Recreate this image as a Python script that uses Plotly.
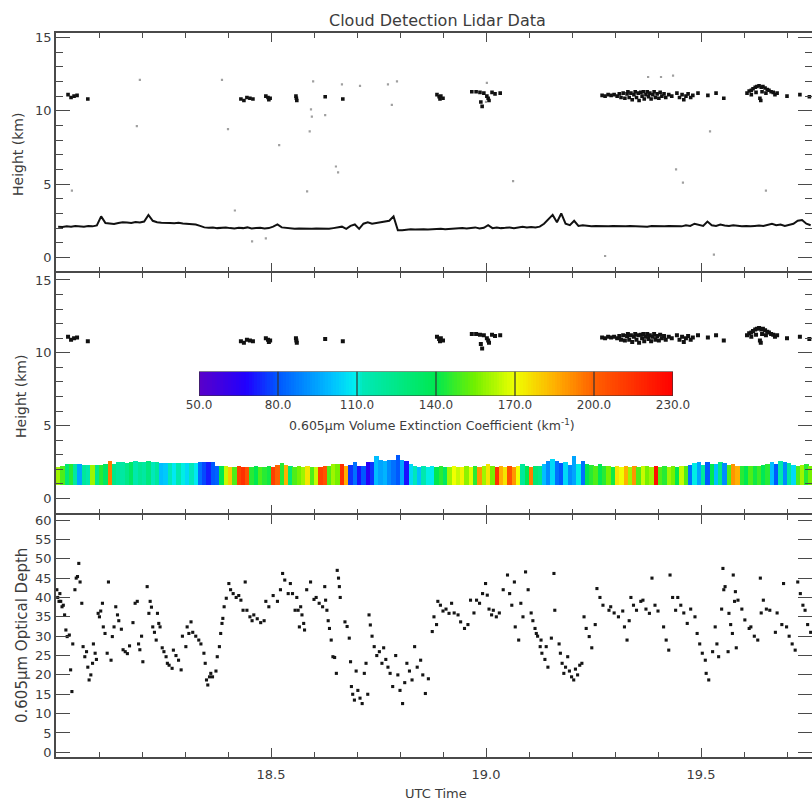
import numpy as np
import plotly.graph_objects as go

FONT = "DejaVu Sans"
INK = "#3c3c3c"
AXC = "#4a4a4a"

# ---------------- optical depth (UTC hour, tau at 0.605 um) ----------------
od_time = [
    18.002, 18.004, 18.007, 18.009, 18.011, 18.014, 18.017, 18.020, 18.023, 18.026,
    18.031, 18.034, 18.037, 18.039, 18.044, 18.047, 18.050, 18.053, 18.056, 18.060,
    18.063, 18.067, 18.071, 18.074, 18.077, 18.081, 18.085, 18.087, 18.091, 18.094,
    18.098, 18.101, 18.104, 18.108, 18.110, 18.114, 18.119, 18.122, 18.128, 18.131,
    18.135, 18.139, 18.143, 18.146, 18.152, 18.156, 18.161, 18.166, 18.171, 18.179,
    18.184, 18.189, 18.192, 18.195, 18.199, 18.202, 18.212, 18.216, 18.219, 18.222,
    18.225, 18.229, 18.233, 18.236, 18.239, 18.242, 18.247, 18.251, 18.256, 18.259,
    18.263, 18.270, 18.273, 18.279, 18.285, 18.291, 18.294, 18.302, 18.305, 18.309,
    18.314, 18.318, 18.325, 18.332, 18.337, 18.344, 18.347, 18.350, 18.353, 18.357,
    18.360, 18.364, 18.372, 18.375, 18.380, 18.383, 18.386, 18.388, 18.391, 18.396,
    18.402, 18.406, 18.412, 18.419, 18.425, 18.430, 18.435, 18.440, 18.444, 18.451,
    18.456, 18.460, 18.468, 18.476, 18.484, 18.488, 18.495, 18.505, 18.515, 18.522,
    18.527, 18.532, 18.540, 18.545, 18.550, 18.556, 18.560, 18.563, 18.566, 18.569,
    18.572, 18.576, 18.578, 18.583, 18.592, 18.600, 18.605, 18.612, 18.620, 18.625,
    18.627, 18.630, 18.633, 18.636, 18.640, 18.644, 18.648, 18.652, 18.654, 18.657,
    18.659, 18.661, 18.672, 18.677, 18.682, 18.685, 18.687, 18.690, 18.694, 18.698,
    18.702, 18.707, 18.712, 18.717, 18.721, 18.725, 18.728, 18.731, 18.735, 18.740,
    18.746, 18.752, 18.758, 18.762, 18.767, 18.772, 18.777, 18.783, 18.790, 18.795,
    18.800, 18.806, 18.811, 18.816, 18.822, 18.828, 18.834, 18.840, 18.848, 18.853,
    18.859, 18.866, 18.875, 18.879, 18.885, 18.888, 18.894, 18.900, 18.907, 18.914,
    18.920, 18.926, 18.935, 18.941, 18.950, 18.958, 18.964, 18.972, 18.978, 18.985,
    18.992, 18.999, 19.003, 19.007, 19.013, 19.017, 19.024, 19.031, 19.040, 19.050,
    19.055, 19.060, 19.066, 19.068, 19.076, 19.081, 19.086, 19.092, 19.098, 19.105,
    19.109, 19.114, 19.120, 19.126, 19.117, 19.128, 19.140, 19.130, 19.137, 19.144,
    19.152, 19.158, 19.160, 19.170, 19.173, 19.177, 19.181, 19.185, 19.190, 19.194,
    19.199, 19.204, 19.208, 19.213, 19.218, 19.223, 19.228, 19.233, 19.240, 19.246,
    19.254, 19.258, 19.265, 19.272, 19.286, 19.290, 19.298, 19.308, 19.318, 19.322,
    19.328, 19.333, 19.337, 19.343, 19.350, 19.360, 19.365, 19.372, 19.380, 19.386,
    19.393, 19.400, 19.413, 19.419, 19.425, 19.428, 19.434, 19.441, 19.446, 19.453,
    19.460, 19.468, 19.476, 19.486, 19.491, 19.497, 19.503, 19.510, 19.512, 19.518,
    19.527, 19.533, 19.537, 19.541, 19.548, 19.553, 19.563, 19.551, 19.556, 19.565,
    19.569, 19.573, 19.578, 19.582, 19.575, 19.580, 19.586, 19.595, 19.602, 19.612,
    19.616, 19.624, 19.632, 19.640, 19.638, 19.645, 19.652, 19.660, 19.673, 19.677,
    19.688, 19.692, 19.699, 19.705, 19.712, 19.719, 19.725, 19.731, 19.737, 19.742,
    19.748, 19.755,
]
od_value = [
    42, 40, 39, 41, 39, 37.6, 38, 35.5, 31.6, 29.9,
    30.3, 21.3, 15.7, 28, 42, 45, 45.4, 48.8, 44, 38.5,
    27.3, 24.7, 26, 22, 18.7, 20, 23, 28, 25.6, 24,
    35.9, 35, 36.5, 38.5, 32.4, 30.7, 25.6, 44, 23.8, 29.9,
    32.4, 37.6, 35.5, 34, 31.8, 26.5, 26, 25.5, 27.5, 33.5,
    38.5, 39, 28, 26.5, 30, 23.4, 42.8, 35.9, 39, 37.5,
    32.4, 31, 29, 35.9, 33.3, 32.4, 27, 26, 24.7, 23,
    22.5, 21.7, 26.4, 25, 23.8, 21.3, 30, 27.3, 32.4, 30.7,
    33.7, 31, 30, 29, 28, 25.6, 23, 18.7, 17.4, 19.5,
    20.4, 19.5, 21, 24.7, 27.3, 30.7, 33.3, 34.6, 37.6, 39.8,
    43.6, 42, 41, 40, 40.5, 39.3, 36.7, 44, 36.7, 35,
    34, 35.5, 34.5, 33.5, 34, 39, 37.6, 40.5, 39, 42,
    46.2, 44.5, 41, 43.6, 41, 36.7, 40, 36.7, 32.4, 37.6,
    35.5, 33.3, 31.6, 42, 44, 39.5, 40, 38.5, 37.6, 42.8,
    39.3, 36.7, 34, 32, 29, 24.7, 24.5, 20.4, 47, 45,
    42.8, 40, 33.7, 32.5, 29.5, 23.4, 17, 15, 13.5, 21,
    16, 14, 12.6, 20.4, 23, 15, 35.5, 32.9, 30, 27.3,
    25, 26, 23, 27, 24, 22, 20.4, 17, 25, 20,
    16, 12.6, 18, 23, 21, 18.7, 27.3, 22, 23.8, 20,
    15.2, 19, 31.2, 35, 33, 39, 38, 36.5, 37, 35.9,
    38.5, 36, 35.5, 33.7, 32, 33, 39.3, 36, 39.3, 38.5,
    41, 43.6, 40.6, 37, 35.5, 36.7, 35, 36, 42, 45.8,
    41, 38, 44, 32.4, 29, 38.5, 35, 46.6, 42, 36,
    34, 32, 30, 27.3, 30.7, 29, 27.3, 25.6, 24, 22,
    29.5, 46.2, 36.7, 28, 25.6, 23, 20.4, 22, 24.7, 21,
    19.5, 18.7, 21.5, 20, 22.5, 23, 35, 32, 29.9, 27,
    33, 42.3, 40, 38, 36.7, 37.6, 36, 35, 36.5, 32.4,
    29, 34, 40, 38, 36.7, 39, 39.3, 37, 35.9, 45,
    38, 36.5, 32.4, 29, 26.4, 45.8, 40, 36.7, 40, 38,
    36, 33.3, 37, 35, 30.7, 28, 25.6, 23.8, 20.4, 18.7,
    26, 32.4, 28, 24.7, 37, 42, 26, 47.5, 42.8, 35.9,
    33, 30.7, 39, 27, 45.8, 41.5, 39.3, 37, 34.2, 32,
    32.4, 30, 29, 36, 45, 39.3, 37, 36.7, 31, 36,
    33, 43.6, 32.4, 30, 28, 26.4, 44, 41, 38, 36.7,
    33, 31,
]

# ---------------- low cloud: one profile every 0.01 h starting at 18.005 ----------------
profile_start = 18.005
profile_step = 0.01
layer_bottom_km = 0.95

# lidar-detected low cloud height (upper panel trace)
detected_km = [
    2.10, 2.08, 2.12, 2.10, 2.15, 2.12, 2.10, 2.14, 2.12, 2.18,
    2.80, 2.35, 2.30, 2.28, 2.35, 2.40, 2.38, 2.35, 2.42, 2.38,
    2.45, 2.90, 2.50, 2.40, 2.36, 2.38, 2.35, 2.33, 2.36, 2.32,
    2.30, 2.28, 2.25, 2.15, 2.05, 2.02, 2.05, 2.00, 2.02, 2.05,
    2.00, 1.98, 2.02, 2.00, 2.05, 1.98, 2.00, 2.02, 1.98, 2.00,
    2.10, 2.25, 2.05, 2.00, 1.98, 1.95, 1.97, 1.95, 1.98, 1.95,
    1.97, 1.95, 1.98, 1.95, 2.00, 2.05, 2.10, 1.95, 2.15, 2.25,
    1.95, 2.30, 2.40, 2.30, 2.35, 2.40, 2.45, 2.50, 2.80, 1.85,
    1.85, 1.90, 1.92, 1.90, 1.93, 1.92, 1.90, 1.93, 1.92, 1.95,
    1.93, 1.95, 1.92, 1.95, 2.00, 1.98, 2.00, 2.05, 1.98, 2.02,
    2.20, 2.00, 2.05, 2.00, 2.02, 2.05, 2.00, 2.03, 2.10, 2.05,
    2.08, 2.05, 2.10, 2.30, 2.60, 2.90, 2.40, 3.00, 2.30, 2.20,
    2.50, 2.15, 2.20, 2.15, 2.12, 2.15, 2.13, 2.15, 2.12, 2.15,
    2.13, 2.15, 2.12, 2.15, 2.13, 2.15, 2.12, 2.10, 2.15, 2.13,
    2.15, 2.12, 2.15, 2.13, 2.15, 2.12, 2.20, 2.15, 2.30, 2.25,
    2.15, 2.45, 2.20, 2.15, 2.25, 2.18, 2.15, 2.20, 2.15, 2.13,
    2.15, 2.12, 2.15, 2.18, 2.15, 2.20, 2.30, 2.20, 2.25, 2.15,
    2.20, 2.30, 2.50, 2.55, 2.30, 2.20,
]

# top of the retrieved extinction column (middle panel)
column_top_km = [
    2.18, 2.20, 2.35, 2.38, 2.36, 2.38, 2.30, 2.28, 2.32, 2.30,
    2.28, 2.35, 2.60, 2.38, 2.48, 2.50, 2.46, 2.50, 2.60, 2.48,
    2.52, 2.60, 2.50, 2.48, 2.45, 2.47, 2.44, 2.46, 2.45, 2.43,
    2.46, 2.44, 2.47, 2.50, 2.50, 2.48, 2.50, 2.25, 2.22, 2.20,
    2.18, 2.16, 2.20, 2.18, 2.19, 2.17, 2.20, 2.18, 2.16, 2.20,
    2.18, 2.30, 2.45, 2.30, 2.20, 2.18, 2.20, 2.17, 2.20, 2.19,
    2.18, 2.18, 2.20, 2.22, 2.40, 2.35, 2.40, 2.20, 2.30, 2.50,
    2.20, 2.25, 2.50, 2.50, 2.90, 2.62, 2.60, 2.62, 2.65, 3.00,
    2.62, 2.55, 2.35, 2.20, 2.18, 2.20, 2.18, 2.20, 2.18, 2.20,
    2.17, 2.18, 2.20, 2.18, 2.16, 2.20, 2.18, 2.20, 2.18, 2.20,
    2.40, 2.20, 2.18, 2.20, 2.17, 2.20, 2.18, 2.20, 2.35, 2.20,
    2.18, 2.20, 2.22, 2.40, 2.55, 2.70, 2.60, 2.45, 2.50, 2.30,
    2.90, 2.40, 2.55, 2.40, 2.30, 2.20, 2.35, 2.20, 2.20, 2.18,
    2.20, 2.18, 2.20, 2.17, 2.20, 2.18, 2.20, 2.22, 2.18, 2.20,
    2.18, 2.20, 2.19, 2.20, 2.18, 2.20, 2.25, 2.30, 2.45, 2.50,
    2.30, 2.50, 2.40, 2.35, 2.50, 2.45, 2.30, 2.40, 2.20, 2.20,
    2.22, 2.20, 2.25, 2.20, 2.30, 2.40, 2.50, 2.40, 2.55, 2.50,
    2.45, 2.30, 2.25, 2.30, 2.40, 2.20,
]
extinction = [
    160, 150, 130, 145, 118, 95, 120, 115, 160, 125,
    145, 135, 195, 125, 120, 118, 125, 135, 115, 122,
    118, 128, 112, 120, 100, 102, 112, 108, 115, 110,
    105, 112, 108, 85, 78, 72, 80, 82, 140, 165,
    180, 150, 210, 215, 205, 145, 140, 150, 145, 142,
    210, 200, 145, 185, 130, 150, 155, 160, 175, 150,
    165, 210, 205, 150, 160, 155, 215, 185, 75, 85,
    70, 80, 65, 75, 100, 95, 98, 90, 85, 80,
    95, 70, 105, 112, 100, 115, 110, 108, 140, 145,
    135, 160, 170, 165, 172, 158, 168, 145, 190, 160,
    175, 155, 215, 185, 175, 205, 190, 170, 120, 140,
    195, 130, 125, 100, 90, 105, 85, 80, 105, 90,
    95, 110, 85, 140, 145, 150, 138, 145, 155, 142,
    175, 170, 185, 160, 190, 150, 165, 155, 160, 225,
    150, 145, 160, 155, 140, 165, 150, 85, 110, 95,
    120, 80, 140, 100, 125, 90, 150, 190, 185, 145,
    140, 150, 142, 148, 138, 145, 100, 80, 115, 90,
    120, 105, 150, 160, 145, 155,
]

# ---------------- cirrus returns near 11 km ----------------
cirrus_time = [
    18.028, 18.035, 18.042, 18.049, 18.074,
    18.430, 18.437, 18.444, 18.451, 18.458,
    18.488, 18.493, 18.495, 18.498,
    18.558, 18.559, 18.560, 18.626, 18.667,
    18.886, 18.891, 18.893, 18.895, 18.900,
    18.967, 18.977, 18.986, 18.988, 18.991, 18.995, 19.002, 19.005, 19.007, 19.014, 19.021, 19.033,
    19.270, 19.277, 19.284, 19.291, 19.298, 19.305, 19.310, 19.314, 19.319, 19.323,
    19.328, 19.330, 19.333, 19.337, 19.340, 19.344, 19.347, 19.350, 19.354, 19.356,
    19.360, 19.363, 19.366, 19.368, 19.372, 19.375, 19.378, 19.381, 19.384, 19.388,
    19.391, 19.394, 19.398, 19.402, 19.405, 19.409, 19.414, 19.418, 19.425, 19.432,
    19.444, 19.450, 19.456, 19.460, 19.465, 19.470, 19.476, 19.481, 19.493, 19.516,
    19.535, 19.553,
    19.607, 19.612, 19.617, 19.621, 19.626, 19.630, 19.635, 19.640, 19.644, 19.637,
    19.639, 19.642, 19.649, 19.654, 19.658, 19.663, 19.668, 19.672, 19.677, 19.617,
    19.628, 19.651, 19.700, 19.730, 19.752,
]
cirrus_km = [
    11.1, 10.9, 11.0, 11.05, 10.8,
    10.8, 10.7, 10.9, 10.85, 10.8,
    11.0, 10.9, 10.75, 10.85,
    11.0, 10.85, 10.7, 10.95, 10.8,
    11.1, 10.95, 10.8, 11.0, 10.85,
    11.3, 11.3, 11.25, 10.6, 10.3, 11.2, 11.0, 10.85, 10.7, 11.25, 11.15, 11.2,
    11.05, 11.0, 11.1, 11.05, 11.1, 11.0, 11.15, 10.9, 11.2, 10.85,
    11.15, 11.3, 10.9, 11.2, 10.75, 11.1, 11.3, 10.9, 11.2, 10.7,
    11.25, 11.0, 11.3, 10.8, 11.1, 11.3, 10.95, 11.2, 10.8, 11.1,
    11.3, 10.9, 11.15, 10.85, 11.25, 11.0, 11.15, 10.9, 11.1, 11.0,
    11.2, 10.9, 11.1, 10.75, 11.0, 11.15, 10.9, 11.05, 11.2, 11.05,
    11.2, 10.85,
    11.2, 11.35, 11.4, 11.5, 11.6, 11.65, 11.7, 11.6, 11.65, 10.85,
    10.7, 11.3, 11.55, 11.45, 11.4, 11.3, 11.25, 11.1, 11.2, 11.1,
    11.25, 11.2, 11.0, 11.1, 10.95,
]

# ---------------- isolated weak returns ----------------
noise_time = [
    18.195, 18.188, 18.386, 18.400, 18.519, 18.037, 18.416, 18.456, 18.488, 18.598,
    18.665, 18.707, 18.772, 18.793, 18.593, 18.595, 18.626, 18.590, 18.781, 18.656,
    18.651, 18.584, 19.063, 19.002, 19.000, 19.377, 19.407, 19.435, 19.521, 19.442,
    19.458, 19.651, 19.277, 19.530,
]
noise_km = [
    12.1, 8.95, 12.1, 8.75, 7.66, 4.55, 3.2, 1.1, 1.3, 12.0,
    11.8, 11.7, 11.8, 12.0, 10.1, 9.6, 9.7, 8.6, 10.4, 5.8,
    6.2, 4.5, 5.2, 11.9, 10.6, 12.3, 12.3, 12.4, 8.6, 6.0,
    5.1, 4.55, 0.1, 0.2,
]

# ---------------- axis ticks ----------------
time_ticks = [18.5, 19.0, 19.5]
time_labels = ["18.5", "19.0", "19.5"]
height_ticks = [0, 5, 10, 15]
od_ticks = [0, 5, 10, 15, 20, 25, 30, 35, 40, 45, 50, 55, 60]
cbar_ticks = [50, 80, 110, 140, 170, 200, 230]
cbar_labels = ["50.0", "80.0", "110.0", "140.0", "170.0", "200.0", "230.0"]

RAINBOW = [
    [0.000, "#5a00c8"],
    [0.100, "#2000ff"],
    [0.167, "#0058ff"],
    [0.280, "#00c0ff"],
    [0.330, "#00f0f0"],
    [0.345, "#00e8b8"],
    [0.500, "#00e850"],
    [0.580, "#70f000"],
    [0.667, "#f0ff00"],
    [0.750, "#ffb000"],
    [0.833, "#ff6000"],
    [1.000, "#ff0000"],
]
EXT_MIN, EXT_MAX = 50, 230

bar_time = profile_start + profile_step * np.arange(len(column_top_km))
bar_len = [h - layer_bottom_km for h in column_top_km]

T0, T1 = 18.0, 18.0 + 756 / 430.0

fig = go.Figure()

# optical depth panel
fig.add_trace(go.Scatter(
    x=od_time, y=od_value, mode="markers", xaxis="x", yaxis="y",
    marker=dict(symbol="square", size=3.1, color="#151515"),
    showlegend=False, hoverinfo="skip"))

# extinction panel: coloured columns plus cirrus
fig.add_trace(go.Bar(
    x=bar_time, y=bar_len, base=layer_bottom_km, width=profile_step * 1.02,
    xaxis="x2", yaxis="y2",
    marker=dict(color=extinction, colorscale=RAINBOW, cmin=EXT_MIN, cmax=EXT_MAX,
                line=dict(width=0)),
    showlegend=False, hoverinfo="skip"))
fig.add_trace(go.Scatter(
    x=cirrus_time, y=cirrus_km, mode="markers", xaxis="x2", yaxis="y2",
    marker=dict(symbol="square", size=4.0, color="#111111"),
    showlegend=False, hoverinfo="skip"))

# detection panel
fig.add_trace(go.Scatter(
    x=noise_time, y=noise_km, mode="markers", xaxis="x3", yaxis="y3",
    marker=dict(symbol="square", size=2.2, color="#a0a0a0"),
    showlegend=False, hoverinfo="skip"))
fig.add_trace(go.Scatter(
    x=bar_time, y=detected_km, mode="lines", xaxis="x3", yaxis="y3",
    line=dict(color="#111111", width=2.0),
    showlegend=False, hoverinfo="skip"))
fig.add_trace(go.Scatter(
    x=cirrus_time, y=cirrus_km, mode="markers", xaxis="x3", yaxis="y3",
    marker=dict(symbol="square", size=3.6, color="#111111"),
    showlegend=False, hoverinfo="skip"))

# colour key
cb_x = np.linspace(EXT_MIN + 0.5, EXT_MAX - 0.5, EXT_MAX - EXT_MIN)
fig.add_trace(go.Heatmap(
    x=cb_x, y=[0.5], z=[cb_x], colorscale=RAINBOW, zmin=EXT_MIN, zmax=EXT_MAX,
    showscale=False, xaxis="x4", yaxis="y4", hoverinfo="skip"))

tickfont = dict(family=FONT, size=13, color=INK)
LW = 1.6

def time_axis(anchor, labels):
    return dict(
        range=[T0, T1], anchor=anchor, domain=[0, 1], automargin=False,
        showline=True, linecolor=AXC, linewidth=LW, mirror="ticks",
        ticks="inside", ticklen=9, tickwidth=1.3, tickcolor=AXC,
        tickmode="array", tickvals=time_ticks, ticktext=time_labels,
        showticklabels=labels, tickfont=tickfont, ticklabelstandoff=5,
        minor=dict(tickmode="linear", tick0=18.0, dtick=0.1, ticks="inside",
                   ticklen=5, tickwidth=1.1, tickcolor=AXC, showgrid=False),
        showgrid=False, zeroline=False)

def value_axis(anchor, domain, rng, ticks, minor_step):
    ax = dict(
        range=rng, anchor=anchor, domain=domain, automargin=False,
        showline=True, linecolor=AXC, linewidth=LW, mirror="ticks",
        ticks="inside", ticklen=14, tickwidth=1.3, tickcolor=AXC,
        tickmode="array", tickvals=ticks, ticktext=[str(v) for v in ticks],
        tickfont=tickfont, showgrid=False, zeroline=False)
    if minor_step:
        ax["minor"] = dict(tickmode="linear", tick0=0, dtick=minor_step, ticks="inside",
                           ticklen=7, tickwidth=1.1, tickcolor=AXC, showgrid=False)
    return ax

H = 724.0
def py(px):
    return (757 - px) / H

def pxx(px):
    return (px - 56) / 756.0

fig.update_layout(
    width=812, height=803,
    margin=dict(l=56, r=0, t=33, b=46, autoexpand=False),
    paper_bgcolor="white", plot_bgcolor="white",
    bargap=0, showlegend=False,
    xaxis=time_axis("y", True),
    xaxis2=dict(time_axis("y2", False), matches="x"),
    xaxis3=dict(time_axis("y3", False), matches="x"),
    yaxis=value_axis("x", [0, py(515)], [-1.2, 61.3], od_ticks, None),
    yaxis2=value_axis("x2", [py(515 - LW), py(273)], [-1.02, 15.48], height_ticks, 1),
    yaxis3=value_axis("x3", [py(273 - LW), 1], [-0.95, 15.3], height_ticks, 1),
    xaxis4=dict(domain=[pxx(199), pxx(673)], anchor="y4", range=[EXT_MIN, EXT_MAX],
                automargin=False,
                tickmode="array", tickvals=cbar_ticks, ticktext=cbar_labels,
                ticks="", showline=False, showgrid=False, zeroline=False,
                tickfont=dict(family=FONT, size=12, color=INK)),
    yaxis4=dict(domain=[py(396), py(371.5)], anchor="x4", range=[0, 1],
                visible=False, automargin=False),
)

# outline and dividers of the colour key
fig.add_shape(type="rect", xref="x4", yref="y4", x0=EXT_MIN, x1=EXT_MAX, y0=0, y1=1,
              line=dict(color="#333333", width=1.2))
for v in cbar_ticks[1:-1]:
    fig.add_shape(type="line", xref="x4", yref="y4", x0=v, x1=v, y0=0, y1=1,
                  line=dict(color="#333333", width=1.2))

def label(text, x, y, size, angle=0):
    fig.add_annotation(text=text, xref="paper", yref="paper", x=x, y=y,
                       xanchor="center", yanchor="middle", showarrow=False,
                       textangle=angle, font=dict(family=FONT, size=size, color=INK))

label("Cloud Detection Lidar Data", pxx(437), py(20), 16)
label("UTC Time", pxx(436), py(793), 13)
label("Height (km)", pxx(18), py(155), 14, -90)
label("Height (km)", pxx(21), py(397), 14, -90)
label("0.605\u03bcm Optical Depth", pxx(22), py(636), 15, -90)
label("0.605\u03bcm Volume Extinction Coefficient (km<sup>-1</sup>)", pxx(432), py(425), 12.5)

fig.write_html("out.html")
